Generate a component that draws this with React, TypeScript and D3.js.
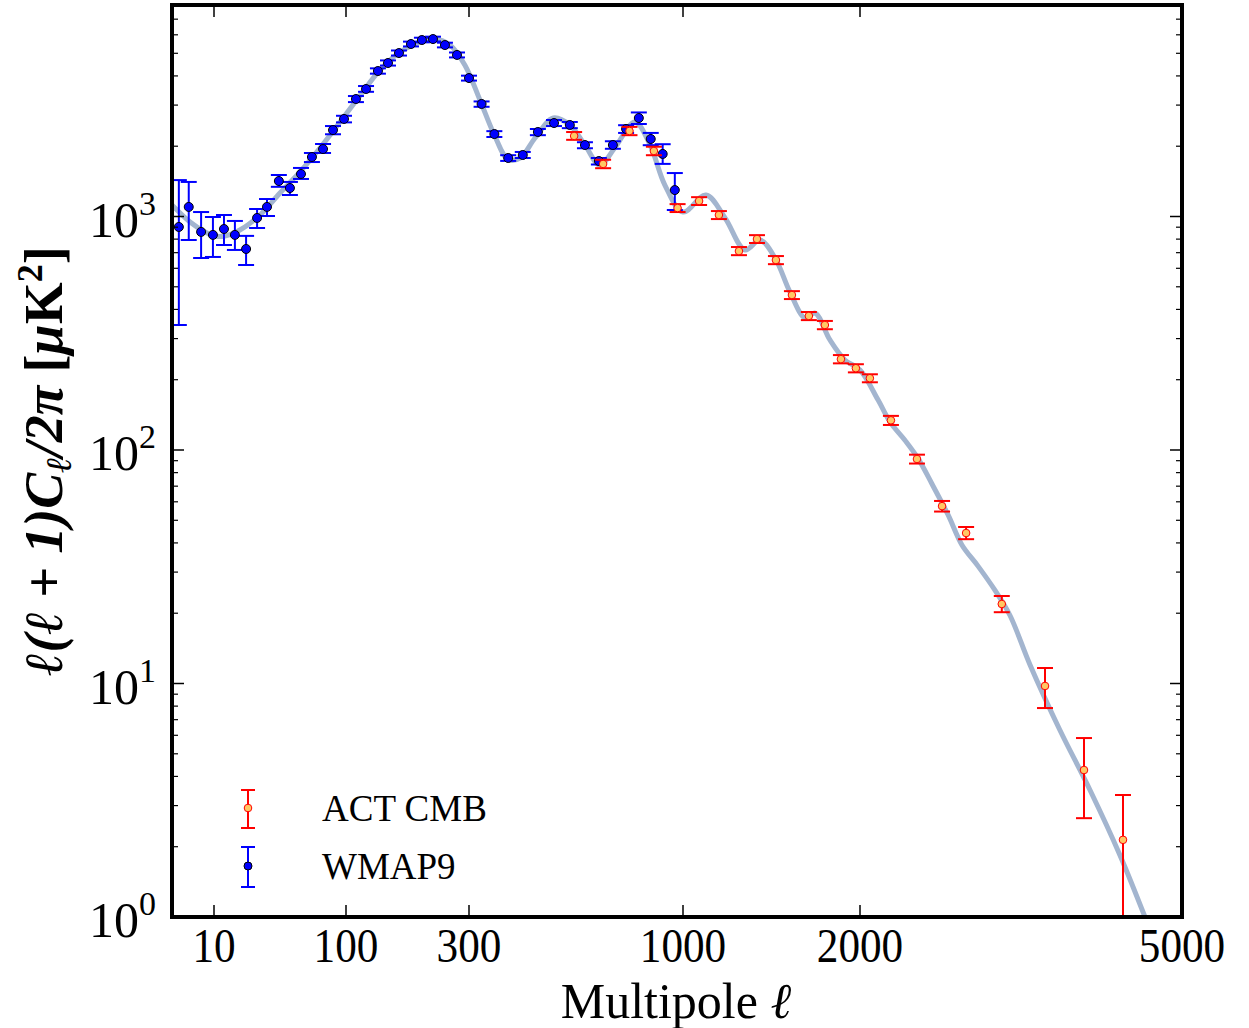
import * as d3 from 'd3'

// x axis: piecewise log scale (as in the reference figure)
const xTicks = [10, 100, 300, 1000, 2000, 5000]
const yTickExp = [0, 1, 2, 3]

// WMAP9 band powers
const wmapL = [2.6, 3.8, 6.1, 9.6, 11.9, 14.4, 17.5, 21.2, 25.2, 31, 37.6, 45.6, 55.2, 67, 79.7, 96.6, 109.3, 119.6, 133, 145.5, 160.5, 178.7, 197, 217.5, 242, 269.5, 300, 322, 346, 374, 406, 442, 484, 529, 576, 623, 674, 726, 780, 834, 892, 955]
const wmapD = [902, 1099, 859, 834, 884, 834, 726, 986, 1099, 1419, 1324, 1521, 1798, 1945, 2345, 2617, 3186, 3516, 4198, 4543, 5012, 5479, 5700, 5754, 5424, 4920, 3917, 3033, 2255, 1781, 1834, 2301, 2514, 2466, 2024, 1728, 2024, 2371, 2641, 2148, 1853, 1298]
const wmapLo = [343, 793, 664, 671, 755, 719, 620, 893, 1005, 1340, 1236, 1448, 1711, 1871, 2250, 2530, 3090, 3420, 4090, 4430, 4890, 5350, 5570, 5620, 5300, 4800, 3820, 2950, 2190, 1730, 1780, 2230, 2440, 2390, 1960, 1670, 1950, 2280, 2490, 2020, 1680, 1066]
const wmapHi = [1432, 1406, 1045, 995, 1015, 957, 826, 1077, 1188, 1506, 1406, 1614, 1871, 2044, 2440, 2700, 3280, 3620, 4310, 4660, 5140, 5610, 5830, 5890, 5550, 5040, 4010, 3110, 2320, 1830, 1890, 2370, 2590, 2540, 2080, 1780, 2100, 2460, 2790, 2280, 2040, 1535]

// ACT CMB band powers
const actL = [542, 638, 740, 849, 970, 1065, 1151, 1245, 1336, 1439, 1532, 1637, 1743, 1856, 1968, 2057, 2184, 2352, 2526, 2705, 2994, 3386, 3783, 4227]
const actD = [2213, 1679, 2324, 1908, 1087, 1165, 1015, 711, 801, 651, 461, 375, 343, 245, 224, 203, 134, 91.5, 57.5, 44.1, 21.9, 9.76, 4.26, 2.14]
const actLo = [2130, 1610, 2230, 1830, 1045, 1120, 975, 683, 770, 625, 443, 360, 329, 235, 215, 195, 128, 87.5, 54.5, 41.5, 20.2, 7.85, 2.65, 0.9]
const actHi = [2300, 1750, 2420, 1990, 1130, 1210, 1055, 740, 832, 677, 479, 390, 357, 255, 233, 211, 140, 95.5, 60.5, 46.8, 23.7, 11.65, 5.84, 3.33]

// best-fit theory curve
const thL = [2, 3.99, 7.08, 10, 12.1, 15.7, 22.3, 31.6, 44.8, 63.5, 90, 113, 135.5, 162, 193.6, 221, 253, 289, 319, 346, 374, 400, 435, 482, 529, 576, 626, 681, 763, 831, 903, 1000, 1094, 1179, 1275, 1352, 1434, 1520, 1613, 1677, 1778, 1885, 2000, 2105, 2178, 2273, 2359, 2455, 2570, 2673, 2797, 2936, 3064, 3245, 3532, 3848, 4191, 4500]
const thD = [1120, 947, 859, 825, 825, 875, 1015, 1261, 1552, 1965, 2540, 3281, 4240, 5061, 5590, 5754, 5424, 4456, 3155, 2234, 1754, 1781, 2168, 2641, 2466, 2024, 1662, 1965, 2540, 2024, 1364, 1045, 1236, 986, 719, 793, 664, 475, 367, 386, 296, 243, 220, 164, 132, 110, 92, 71.5, 52.7, 39.2, 31.9, 25.1, 19.6, 12.0, 6.32, 3.5, 1.84, 1.0]

const W = 1249
const H = 1028
const left = 172, right = 1182, top = 5, bottom = 917

const x = d3.scaleLog()
  .domain([2, 10, 100, 300, 1000, 2000, 5000])
  .range([left, 214, 346, 469, 683, 860, right])
const y = d3.scaleLog()
  .domain([1, Math.pow(10, (bottom - top) / 233.5)])
  .range([bottom, top])

const serif = '"Liberation Serif", "DejaVu Serif", serif'

export default function App() {
  const line = d3.line<number>()
    .x(i => x(thL[i]))
    .y(i => y(thD[i]))
    .curve(d3.curveCatmullRom.alpha(0.5))

  const minor: number[] = []
  for (let e = 0; e < 4; e++) for (let m = 2; m <= 9; m++) {
    const v = m * Math.pow(10, e)
    if (y(v) > top) minor.push(v)
  }

  const errBar = (cx: number, y1: number, y2: number, color: string, key: string, cap = 8) => (
    <g key={key} stroke={color} strokeWidth={2}>
      <line x1={cx} x2={cx} y1={y1} y2={y2} />
      <line x1={cx - cap} x2={cx + cap} y1={y1} y2={y1} />
      <line x1={cx - cap} x2={cx + cap} y1={y2} y2={y2} />
    </g>
  )

  return (
    <svg width={W} height={H} style={{ position: 'absolute', left: 0, top: 0, background: '#fff' }}>
      <defs>
        <clipPath id="plot"><rect x={left} y={top} width={right - left} height={bottom - top} /></clipPath>
      </defs>
      <g clipPath="url(#plot)">
        <path d={line(thL.map((_, i) => i)) || ''} fill="none" stroke="#a3b5cf" strokeWidth={5} />
        {wmapL.map((l, i) => errBar(x(l), y(wmapLo[i]), y(wmapHi[i]), '#0000ff', 'we' + i))}
        {wmapL.map((l, i) => (
          <circle key={'w' + i} cx={x(l)} cy={y(wmapD[i])} r={4.5} fill="#0000ff" stroke="#000" strokeWidth={1} />
        ))}
        {actL.map((l, i) => errBar(x(l), y(Math.max(actLo[i], 0.5)), y(actHi[i]), '#ff0000', 'ae' + i))}
        {actL.map((l, i) => (
          <circle key={'a' + i} cx={x(l)} cy={y(actD[i])} r={3.8} fill="#ffc864" stroke="#ff0000" strokeWidth={1} />
        ))}
      </g>

      {/* ticks */}
      {xTicks.map(t => (
        <g key={'xt' + t} stroke="#000" strokeWidth={1.5}>
          <line x1={x(t)} x2={x(t)} y1={bottom} y2={bottom - 12} />
          <line x1={x(t)} x2={x(t)} y1={top} y2={top + 12} />
        </g>
      ))}
      {yTickExp.map(e => (
        <g key={'yt' + e} stroke="#000" strokeWidth={1.5}>
          <line x1={left} x2={left + 12} y1={y(Math.pow(10, e))} y2={y(Math.pow(10, e))} />
          <line x1={right} x2={right - 12} y1={y(Math.pow(10, e))} y2={y(Math.pow(10, e))} />
        </g>
      ))}
      {minor.map(v => (
        <g key={'ym' + v} stroke="#000" strokeWidth={1.2}>
          <line x1={left} x2={left + 6} y1={y(v)} y2={y(v)} />
          <line x1={right} x2={right - 6} y1={y(v)} y2={y(v)} />
        </g>
      ))}
      <rect x={left} y={top} width={right - left} height={bottom - top} fill="none" stroke="#000" strokeWidth={4} />

      {/* tick labels */}
      {xTicks.map(t => (
        <text key={'xl' + t} x={x(t)} y={962} textAnchor="middle" fontFamily={serif} fontSize={48}
          transform={`translate(${x(t)},962) scale(0.9,1) translate(${-x(t)},-962)`}>{t}</text>
      ))}
      {yTickExp.map(e => (
        <text key={'yl' + e} x={156} y={y(Math.pow(10, e)) + 20} textAnchor="end" fontFamily={serif} fontSize={50}>
          10<tspan dy={-22} fontSize={34}>{e}</tspan>
        </text>
      ))}
      <text x={676} y={1018} textAnchor="middle" fontFamily={serif} fontSize={50}>
        Multipole <tspan fontStyle="italic">ℓ</tspan>
      </text>
      <text transform="translate(62,461) rotate(-90)" textAnchor="middle" fontFamily={serif} fontSize={54} fontStyle="italic" fontWeight="bold">
        ℓ(ℓ + 1)C<tspan fontSize={36} dy={9}>ℓ</tspan><tspan dy={-9}>/2π </tspan><tspan fontStyle="normal">[</tspan>μ<tspan fontStyle="normal">K</tspan><tspan fontSize={36} dy={-20} fontStyle="normal">2</tspan><tspan dy={20} fontStyle="normal">]</tspan>
      </text>

      {/* legend */}
      {errBar(248, 790, 828, '#ff0000', 'lg1', 7)}
      <circle cx={248} cy={808} r={3.8} fill="#ffc864" stroke="#ff0000" />
      <text x={322} y={821} fontFamily={serif} fontSize={37}>ACT CMB</text>
      {errBar(248, 847, 887, '#0000ff', 'lg2', 7)}
      <circle cx={248} cy={866} r={4} fill="#0000ff" stroke="#000" />
      <text x={322} y={879} fontFamily={serif} fontSize={37}>WMAP9</text>
    </svg>
  )
}
